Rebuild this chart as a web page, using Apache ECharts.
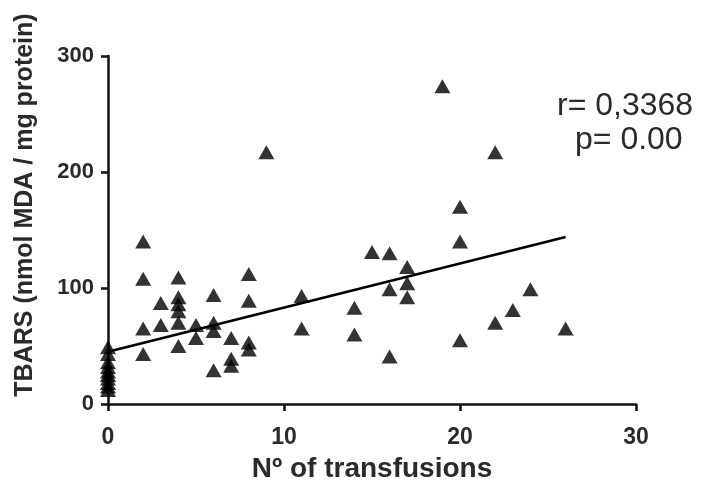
<!DOCTYPE html>
<html>
<head>
<meta charset="utf-8">
<script src="https://cdn.jsdelivr.net/npm/echarts@6/dist/echarts.min.js"></script>
<style>html,body{margin:0;padding:0;background:#fff}#c{width:705px;height:490px}</style>
</head>
<body>
<div id="c"></div>
<script>
// Number of transfusions (x) and TBARS (y)
var transfusions = [0,0,0,0,0,0,0,0,0,0,
  2,2,2,2, 3,3, 4,4,4,4,4,4, 5,5, 6,6,6,6, 7,7,7, 8,8,8,8, 9,
  11,11, 14,14, 15, 16,16,16, 17,17,17, 19, 20,20,20, 22,22, 23, 24, 26];
var tbars = [49,43,36,32,28,25,22,18,15,12,
  140,108,65,43, 87,68, 109,92,86,80,70,50, 68,57, 94,70,63,29, 57,39,33, 112,89,53,47, 217,
  93,65, 83,60, 131, 130,99,41, 118,104,92, 274, 170,140,55, 217,70, 81, 99, 65];
var fitX = [0, 26];
var fitY = [45, 144];
var yTicks = [0, 100, 200, 300];
var xTicks = [0, 10, 20, 30];
var annotR = 'r= 0,3368';
var annotP = 'p= 0.00';

var pts = transfusions.map(function(x, i){ return [x, tbars[i]]; });
var fit = fitX.map(function(x, i){ return [x, fitY[i]]; });

var chart = echarts.init(document.getElementById('c'), null, {renderer:'canvas'});
var txt = '#2a2a2a';
var ff = '"Liberation Sans", Arial, sans-serif';
chart.setOption({
  backgroundColor: '#fff',
  animation: false,
  grid: {left: 108, right: 69, top: 56, bottom: 86},
  xAxis: {
    type: 'value', min: xTicks[0], max: xTicks[xTicks.length-1], interval: 10,
    name: 'Nº of transfusions', nameLocation: 'middle', nameGap: 51,
    nameTextStyle: {fontSize: 28, fontWeight: 'bold', color: txt, fontFamily: ff},
    axisLine: {onZero: false, lineStyle: {color: '#111', width: 2.5}},
    axisTick: {show: true, length: 7, lineStyle: {color: '#111', width: 2.5}},
    axisLabel: {fontSize: 23, fontWeight: 'bold', color: txt, fontFamily: ff, margin: 22},
    splitLine: {show: false}
  },
  yAxis: {
    type: 'value', min: yTicks[0], max: yTicks[yTicks.length-1], interval: 100,
    name: 'TBARS (nmol MDA / mg protein)', nameLocation: 'middle', nameGap: 70,
    nameTextStyle: {fontSize: 25, fontWeight: 'bold', color: txt, fontFamily: ff, padding: [0, 0, 0, 50]},
    axisLine: {onZero: false, lineStyle: {color: '#111', width: 2.5}},
    axisTick: {show: true, length: 7, lineStyle: {color: '#111', width: 2.5}},
    axisLabel: {fontSize: 22, fontWeight: 'bold', color: txt, fontFamily: ff, margin: 14},
    splitLine: {show: false}
  },
  graphic: [
    {type: 'text', left: 557, top: 90, style: {text: annotR, font: '32px "Liberation Sans", Arial, sans-serif', fill: txt}},
    {type: 'text', left: 575, top: 124, style: {text: annotP, font: '32px "Liberation Sans", Arial, sans-serif', fill: txt}}
  ],
  series: [
    {type: 'line', data: fit, symbol: 'none', lineStyle: {color: '#000', width: 2.5}, z: 2},
    {type: 'scatter', data: pts, symbol: 'triangle', symbolSize: [16, 14],
     itemStyle: {color: '#000'}, z: 3}
  ]
});
</script>
</body>
</html>
